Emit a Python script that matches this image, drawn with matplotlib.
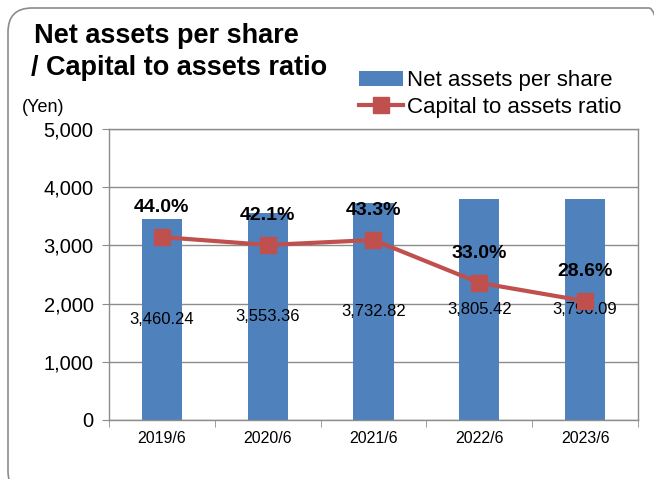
import matplotlib
matplotlib.use('Agg')
import matplotlib.pyplot as plt
from matplotlib.patches import FancyBboxPatch
from matplotlib.transforms import IdentityTransform
from matplotlib.lines import Line2D
from matplotlib.patches import Patch
import numpy as np

plt.rcParams['font.family'] = ['Liberation Sans', 'DejaVu Sans']

periods = ['2019/6', '2020/6', '2021/6', '2022/6', '2023/6']
net_assets = [3460.24, 3553.36, 3732.82, 3805.42, 3790.09]
capital_ratio = [44.0, 42.1, 43.3, 33.0, 28.6]
y_ticks = [0, 1000, 2000, 3000, 4000, 5000]

BAR_COLOR = '#4F81BD'
LINE_COLOR = '#C0504D'
GRID_COLOR = '#8C8C8C'

W, H = 654, 479
fig = plt.figure(figsize=(W / 100, H / 100), dpi=100)

# rounded outer frame in display pixels (origin bottom-left), runs off right and bottom
frame = FancyBboxPatch((8, -16), 665, H - 8 + 16,
                       boxstyle='round,pad=0,rounding_size=24',
                       transform=IdentityTransform(),
                       facecolor='none', edgecolor='#8C8C8C', linewidth=1.2)
fig.patches.append(frame)

ax = fig.add_axes([0.1667, 0.1232, 0.8088, 0.6075])
x = np.arange(len(periods))

ax.bar(x, net_assets, width=0.38, color=BAR_COLOR, zorder=2)
for xi, v in zip(x, net_assets):
    ax.text(xi, v / 2, f'{v:,.2f}', ha='center', va='center', fontsize=12, zorder=5)

ax.set_xlim(-0.5, len(periods) - 0.5)
ax.set_ylim(0, 5000)
ax.set_yticks(y_ticks)
ax.set_yticklabels([f'{t:,}' for t in y_ticks], fontsize=14.5)
ax.yaxis.grid(True, color=GRID_COLOR, linewidth=1, zorder=0)
ax.set_axisbelow(True)
ax.tick_params(axis='y', length=5, color=GRID_COLOR, pad=6)

ax.set_xticks(x)
ax.set_xticklabels(periods, fontsize=11.5)
ax.set_xticks(np.arange(-0.5, len(periods)), minor=True)
ax.tick_params(axis='x', which='major', length=0, pad=8)
ax.tick_params(axis='x', which='minor', length=5, color=GRID_COLOR)
for s in ax.spines.values():
    s.set_color(GRID_COLOR)
    s.set_linewidth(1)

ax2 = ax.twinx()
ax2.set_ylim(0, 70)
ax2.axis('off')
ax2.plot(x, capital_ratio, color=LINE_COLOR, linewidth=3, marker='s',
         markersize=11, markerfacecolor=LINE_COLOR, markeredgecolor=LINE_COLOR, zorder=4)
for xi, v in zip(x, capital_ratio):
    ax2.annotate(f'{v:.1f}%', (xi, v), xytext=(0, 21), textcoords='offset points',
                 ha='center', va='center', fontsize=14, fontweight='bold', zorder=6)

fig.text(0.052, 0.925, 'Net assets per share', fontsize=19.5, fontweight='bold', va='center')
fig.text(0.048, 0.857, '/ Capital to assets ratio', fontsize=19.5, fontweight='bold', va='center')
fig.text(0.033, 0.775, '(Yen)', fontsize=13, va='center')

handles = [Patch(facecolor=BAR_COLOR, edgecolor='none'),
           Line2D([0], [0], color=LINE_COLOR, linewidth=3, marker='s', markersize=11)]
fig.legend(handles, ['Net assets per share', 'Capital to assets ratio'],
           loc='upper left', bbox_to_anchor=(0.535, 0.872), frameon=False,
           fontsize=16, handlelength=2.0, handletextpad=0.15, labelspacing=0.25,
           borderaxespad=0)

fig.savefig('out.png', dpi=100)
